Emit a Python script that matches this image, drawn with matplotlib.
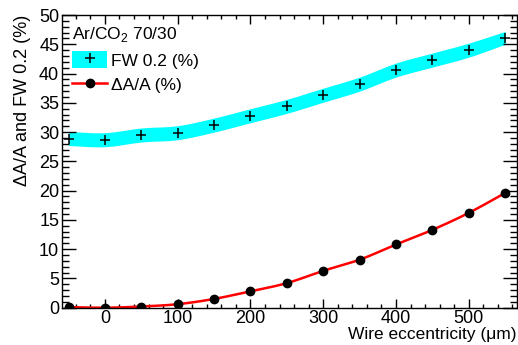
import numpy as np
import matplotlib
matplotlib.use("Agg")
import matplotlib.pyplot as plt
from matplotlib.patches import Patch
from matplotlib.lines import Line2D
from matplotlib.ticker import MultipleLocator

plt.rcParams['font.family'] = ['Liberation Sans', 'DejaVu Sans']
plt.rcParams['mathtext.fontset'] = 'custom'
plt.rcParams['mathtext.rm'] = 'Liberation Sans'

# wire offset scan (um)
eccentricity = [-50, 0, 50, 100, 150, 200, 250, 300, 350, 400, 450, 500, 550]
# full width at 0.2 of max (%) and its band half-width
fw02 = [28.9, 28.7, 29.5, 29.9, 31.2, 32.8, 34.4, 36.3, 38.2, 40.6, 42.3, 44.0, 46.1]
fw02_err = [1.2, 1.2, 1.2, 1.2, 1.2, 1.2, 1.2, 1.2, 1.2, 1.2, 1.2, 1.2, 1.1]
# relative amplitude change (%)
dA_over_A = [0.1, 0.0, 0.2, 0.6, 1.5, 2.8, 4.2, 6.3, 8.2, 10.8, 13.3, 16.2, 19.6]


def smooth(x, y, n=400):
    # cubic hermite curve through the points, like ROOT's "C" drawing
    x = np.asarray(x, float)
    y = np.asarray(y, float)
    m = np.gradient(y, x)
    xs = np.linspace(x[0], x[-1], n)
    i = np.clip(np.searchsorted(x, xs) - 1, 0, len(x) - 2)
    h = x[i + 1] - x[i]
    t = (xs - x[i]) / h
    h00 = 2 * t**3 - 3 * t**2 + 1
    h10 = t**3 - 2 * t**2 + t
    h01 = -2 * t**3 + 3 * t**2
    h11 = t**3 - t**2
    ys = h00 * y[i] + h10 * h * m[i] + h01 * y[i + 1] + h11 * h * m[i + 1]
    return xs, ys


fig = plt.figure(figsize=(5.18, 3.45), dpi=100)
ax = fig.add_axes([0.1197, 0.1081, 0.878, 0.8484])

# FW 0.2 error band with markers
xs, lo = smooth(eccentricity, np.array(fw02) - np.array(fw02_err))
_, hi = smooth(eccentricity, np.array(fw02) + np.array(fw02_err))
ax.fill_between(xs, lo, hi, color='#00ffff', lw=0, zorder=1)
ax.plot(eccentricity, fw02, ls='none', marker='+', ms=7, mew=1.1, color='black', zorder=3)

# dA/A curve
xs, ys = smooth(eccentricity, dA_over_A)
ax.plot(xs, ys, color='#ff0000', lw=1.8, zorder=2)
ax.plot(eccentricity, dA_over_A, ls='none', marker='o', ms=6, color='black', zorder=3)

ax.set_xlim(-59, 566)
ax.set_ylim(0, 50)
ax.xaxis.set_major_locator(MultipleLocator(100))
ax.xaxis.set_minor_locator(MultipleLocator(20))
ax.yaxis.set_major_locator(MultipleLocator(5))
ax.yaxis.set_minor_locator(MultipleLocator(1))
ax.tick_params(axis='both', which='both', direction='in', top=True, right=True,
               labelsize=13, width=1, color='black')
ax.tick_params(axis='x', which='major', length=6.3, pad=2)
ax.tick_params(axis='x', which='minor', length=3.2)
ax.tick_params(axis='y', which='major', length=9.8, pad=2)
ax.tick_params(axis='y', which='minor', length=4.9)
for s in ax.spines.values():
    s.set_linewidth(1)

ax.set_xlabel('Wire eccentricity (\u03bcm)', fontsize=12.5, loc='right', labelpad=0)
ax.set_ylabel('\u0394A/A and FW 0.2 (%)', fontsize=13, loc='top', labelpad=6)

handles = [(Patch(facecolor='#00ffff', edgecolor='none'),
            Line2D([], [], ls='none', marker='+', ms=7, mew=1.1, color='black')),
           Line2D([], [], color='#ff0000', lw=1.8, marker='o', ms=6,
                  markerfacecolor='black', markeredgecolor='black')]
leg = ax.legend(handles, ['FW 0.2 (%)', '\u0394A/A (%)'],
                title='Ar/CO$_\\mathregular{2}$ 70/30', title_fontsize=12.5,
                fontsize=12.5, loc='upper left', bbox_to_anchor=(0.0, 1.0),
                frameon=False, handlelength=2.0, handleheight=1.1,
                handletextpad=0.2, labelspacing=0.4, borderaxespad=0.2,
                alignment='left')

fig.savefig('out.png', dpi=100)
